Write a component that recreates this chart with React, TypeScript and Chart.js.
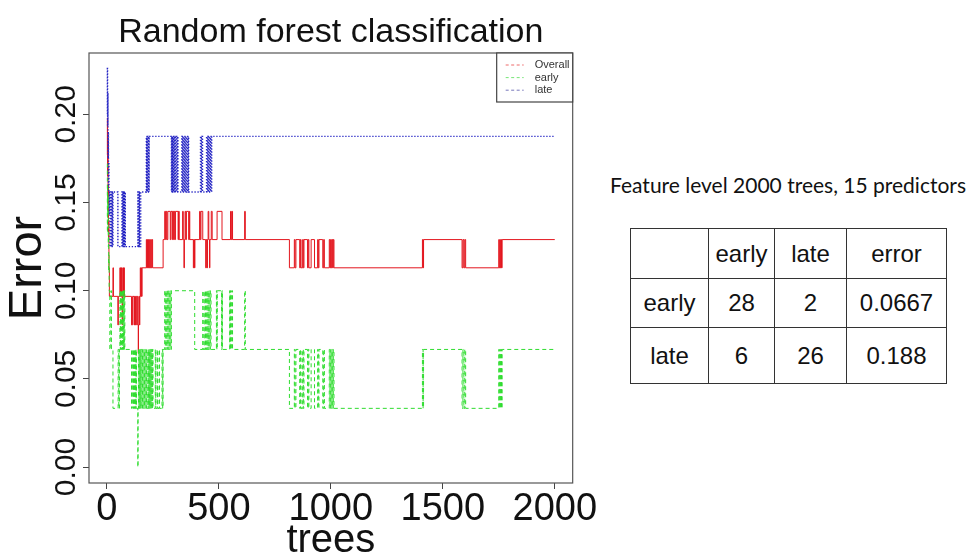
import React, { useEffect, useRef } from "react";
import { Chart, registerables } from "chart.js";

Chart.register(...registerables);

// ---------- data ----------
const chartTitle = "Random forest classification";
const xTitle = "trees";
const yTitle = "Error";
const xTickValues = [0, 500, 1000, 1500, 2000];
const yTickValues = [0, 0.05, 0.1, 0.15, 0.2];
const yTickLabels = ["0.00", "0.05", "0.10", "0.15", "0.20"];
const seriesNames = ["Overall", "early", "late"];

// [tree, error] change points; each value holds until the next point
const overallSteps: [number, number][] = [
  [1, 0.177], [2, 0.198], [3, 0.165], [4, 0.185], [5, 0.15], [6, 0.16], [7, 0.129], [8, 0.14], [9, 0.113], [11, 0.0968],
  [27, 0.113], [29, 0.0968], [49, 0.0806], [51, 0.0968], [58, 0.113], [60, 0.0968], [62, 0.113], [64, 0.0968], [66, 0.113],
  [68, 0.0806], [70, 0.0968], [72, 0.113], [74, 0.0968], [76, 0.113], [78, 0.0968], [110, 0.0806], [114, 0.0968],
  [121, 0.0806], [123, 0.0968], [126, 0.0806], [128, 0.0968], [133, 0.0806], [135, 0.0968], [138, 0.0806], [140, 0.0645],
  [141, 0.0806], [143, 0.0968], [145, 0.0806], [147, 0.0968], [149, 0.113], [151, 0.0968], [153, 0.113], [155, 0.0968],
  [157, 0.113], [176, 0.129], [178, 0.113], [181, 0.129], [183, 0.113], [186, 0.129], [188, 0.113], [191, 0.129],
  [193, 0.113], [196, 0.129], [198, 0.113], [201, 0.129], [204, 0.113], [251, 0.129], [258, 0.145], [262, 0.129],
  [265, 0.145], [268, 0.129], [272, 0.145], [283, 0.129], [286, 0.145], [292, 0.129], [294, 0.145], [298, 0.129],
  [300, 0.145], [303, 0.129], [306, 0.145], [318, 0.129], [320, 0.145], [323, 0.129], [338, 0.145], [341, 0.129],
  [344, 0.113], [346, 0.129], [349, 0.145], [352, 0.129], [355, 0.145], [365, 0.129], [368, 0.145], [370, 0.129],
  [386, 0.113], [388, 0.129], [391, 0.113], [393, 0.129], [414, 0.145], [417, 0.129], [420, 0.145], [428, 0.129],
  [441, 0.113], [444, 0.129], [447, 0.113], [449, 0.129], [452, 0.145], [455, 0.129], [458, 0.113], [460, 0.129],
  [466, 0.145], [470, 0.129], [492, 0.145], [514, 0.129], [552, 0.145], [555, 0.129], [558, 0.145], [561, 0.129],
  [615, 0.145], [618, 0.129], [815, 0.113], [837, 0.129], [840, 0.113], [844, 0.129], [861, 0.113], [864, 0.129],
  [867, 0.113], [874, 0.129], [877, 0.113], [880, 0.129], [896, 0.113], [899, 0.129], [902, 0.113], [912, 0.129],
  [927, 0.113], [941, 0.129], [944, 0.113], [947, 0.129], [964, 0.113], [968, 0.129], [971, 0.113], [993, 0.129],
  [996, 0.113], [999, 0.129], [1002, 0.113], [1005, 0.129], [1008, 0.113], [1011, 0.129], [1014, 0.113],
  [1409, 0.129], [1412, 0.113], [1414, 0.129], [1586, 0.113], [1590, 0.129], [1594, 0.113], [1598, 0.129],
  [1602, 0.113], [1750, 0.129], [1752, 0.113], [1755, 0.129], [1757, 0.113], [1760, 0.129], [1762, 0.113],
  [1765, 0.129], [2000, 0.129],
];

const earlySteps: [number, number][] = [
  [1, 0.172], [2, 0.133], [3, 0.16], [4, 0.143], [5, 0.154], [6, 0.125], [7, 0.133], [8, 0.111], [9, 0.12], [10, 0.1],
  [13, 0.0667], [18, 0.1], [20, 0.0667], [27, 0.0333], [50, 0.0667], [53, 0.0333], [56, 0.0667], [58, 0.1], [60, 0.0667],
  [62, 0.1], [64, 0.0667], [66, 0.1], [68, 0.0667], [70, 0.1], [72, 0.0667], [74, 0.1], [76, 0.0667], [78, 0.1],
  [80, 0.0667], [110, 0.0333], [112, 0.0667], [116, 0.0333], [118, 0.0667], [120, 0.0333], [122, 0.0667], [124, 0.0333],
  [126, 0.0667], [128, 0.0333], [130, 0.0667], [132, 0.0333], [138, 0], [139, 0.0333], [141, 0.0667], [143, 0.0333],
  [145, 0.0667], [147, 0.0333], [149, 0.0667], [151, 0.0333], [153, 0.0667], [156, 0.0333], [159, 0.0667], [162, 0.0333],
  [165, 0.0667], [168, 0.0333], [171, 0.0667], [174, 0.0333], [177, 0.0667], [180, 0.0333], [184, 0.0667], [186, 0.0333],
  [188, 0.0667], [190, 0.0333], [192, 0.0667], [194, 0.0333], [196, 0.0667], [198, 0.0333], [200, 0.0667], [202, 0.0333],
  [204, 0.0667], [206, 0.0333], [216, 0.0667], [218, 0.0333], [224, 0.0667], [226, 0.0333], [233, 0.0667], [235, 0.0333],
  [246, 0.0667], [249, 0.0333], [251, 0.0667], [258, 0.1], [261, 0.0667], [264, 0.1], [267, 0.0667], [270, 0.1],
  [273, 0.0667], [276, 0.1], [279, 0.0667], [282, 0.1], [285, 0.0667], [288, 0.1], [392, 0.0667], [428, 0.1],
  [430, 0.0667], [437, 0.1], [439, 0.0667], [441, 0.1], [443, 0.0667], [446, 0.1], [448, 0.0667], [451, 0.1],
  [453, 0.0667], [456, 0.1], [459, 0.0667], [462, 0.1], [465, 0.0667], [489, 0.1], [491, 0.0667], [493, 0.1],
  [512, 0.0667], [514, 0.1], [516, 0.0667], [548, 0.1], [550, 0.0667], [552, 0.1], [555, 0.0667], [558, 0.1],
  [561, 0.0667], [615, 0.1], [618, 0.0667], [815, 0.0333], [837, 0.0667], [840, 0.0333], [844, 0.0667], [861, 0.0333],
  [864, 0.0667], [867, 0.0333], [874, 0.0667], [877, 0.0333], [880, 0.0667], [896, 0.0333], [899, 0.0667], [902, 0.0333],
  [912, 0.0667], [927, 0.0333], [941, 0.0667], [944, 0.0333], [947, 0.0667], [964, 0.0333], [968, 0.0667], [971, 0.0333],
  [993, 0.0667], [996, 0.0333], [999, 0.0667], [1002, 0.0333], [1005, 0.0667], [1008, 0.0333], [1011, 0.0667],
  [1014, 0.0333], [1409, 0.0667], [1412, 0.0333], [1414, 0.0667], [1586, 0.0333], [1590, 0.0667], [1594, 0.0333],
  [1598, 0.0667], [1602, 0.0333], [1750, 0.0667], [1752, 0.0333], [1755, 0.0667], [1757, 0.0333], [1760, 0.0667],
  [1762, 0.0333], [1765, 0.0667], [2000, 0.0667],
];

const lateSteps: [number, number][] = [
  [1, 0.2], [2, 0.226], [3, 0.194], [4, 0.212], [5, 0.176], [6, 0.19], [7, 0.16], [8, 0.172], [9, 0.156], [11, 0.143],
  [12, 0.156], [14, 0.125], [18, 0.156], [20, 0.125], [22, 0.156], [24, 0.125], [27, 0.156], [49, 0.125], [67, 0.156],
  [69, 0.125], [71, 0.156], [73, 0.125], [75, 0.156], [77, 0.125], [79, 0.156], [82, 0.125], [138, 0.156], [140, 0.125],
  [142, 0.156], [144, 0.125], [146, 0.156], [148, 0.125], [151, 0.156], [176, 0.1875], [178, 0.156], [180, 0.1875],
  [182, 0.156], [185, 0.1875], [187, 0.156], [189, 0.1875], [288, 0.156], [290, 0.1875], [292, 0.156], [294, 0.1875],
  [296, 0.156], [298, 0.1875], [300, 0.156], [303, 0.1875], [306, 0.156], [309, 0.1875], [312, 0.156], [315, 0.1875],
  [317, 0.156], [334, 0.1875], [337, 0.156], [339, 0.1875], [342, 0.156], [345, 0.1875], [348, 0.156], [351, 0.1875],
  [354, 0.156], [357, 0.1875], [360, 0.156], [363, 0.1875], [365, 0.156], [418, 0.1875], [421, 0.156], [424, 0.1875],
  [427, 0.156], [445, 0.1875], [447, 0.156], [450, 0.1875], [453, 0.156], [456, 0.1875], [459, 0.156], [462, 0.1875],
  [465, 0.156], [468, 0.1875], [2000, 0.1875],
];

const tableCaption = "Feature level 2000 trees, 15 predictors";
const tableHeader = ["", "early", "late", "error"];
const tableRows = [
  ["early", "28", "2", "0.0667"],
  ["late", "6", "26", "0.188"],
];

// ---------- styling ----------
const FONT = "'Liberation Sans', Arial, Helvetica, sans-serif";
const lineColors = ["#e3161e", "#2fdc2f", "#2626c4"];
const legendColors = ["#ee6a6a", "#77e677", "#7777bb"];
const lineDashes = [[], [4, 3], [1.3, 1.7]];

const frameAndTextPlugin = {
  id: "frameAndText",
  afterDatasetsDraw(chart: any) {
    const { ctx, chartArea } = chart;
    ctx.save();
    ctx.strokeStyle = "#555";
    ctx.lineWidth = 1.2;
    ctx.setLineDash([]);
    ctx.strokeRect(chartArea.left, chartArea.top, chartArea.right - chartArea.left, chartArea.bottom - chartArea.top);
    ctx.restore();
  },
  afterDraw(chart: any) {
    const { ctx, chartArea } = chart;
    const yScale = chart.scales.y;

    // main title, centred over the plot region (R style)
    ctx.save();
    ctx.fillStyle = "#111";
    ctx.font = `34px ${FONT}`;
    ctx.textAlign = "center";
    ctx.textBaseline = "alphabetic";
    ctx.fillText(chartTitle, (chartArea.left + chartArea.right) / 2, 42);
    ctx.restore();

    // rotated y tick labels
    ctx.save();
    ctx.fillStyle = "#111";
    ctx.font = `30px ${FONT}`;
    ctx.textAlign = "center";
    ctx.textBaseline = "middle";
    yTickValues.forEach((v, i) => {
      const py = yScale.getPixelForValue(v);
      ctx.save();
      ctx.translate(chartArea.left - 22, py);
      ctx.rotate(-Math.PI / 2);
      ctx.fillText(yTickLabels[i], 0, 0);
      ctx.restore();
    });
    ctx.restore();

    // legend box inside the top-right corner
    const boxW = 76;
    const boxH = 49;
    const bx = chartArea.right - boxW;
    const by = chartArea.top;
    ctx.save();
    ctx.fillStyle = "#fff";
    ctx.fillRect(bx, by, boxW, boxH);
    ctx.strokeStyle = "#444";
    ctx.lineWidth = 1.2;
    ctx.strokeRect(bx, by, boxW, boxH);
    ctx.font = `11px ${FONT}`;
    ctx.textBaseline = "middle";
    ctx.textAlign = "left";
    seriesNames.forEach((name, i) => {
      const ly = by + 12 + i * 12.6;
      ctx.strokeStyle = legendColors[i];
      ctx.lineWidth = 1;
      ctx.setLineDash([3, 2.5]);
      ctx.beginPath();
      ctx.moveTo(bx + 9, ly);
      ctx.lineTo(bx + 27, ly);
      ctx.stroke();
      ctx.setLineDash([]);
      ctx.fillStyle = "#333";
      ctx.fillText(name, bx + 38, ly);
    });
    ctx.restore();
  },
};

function ChartCanvas() {
  const ref = useRef<HTMLCanvasElement | null>(null);
  useEffect(() => {
    if (!ref.current) return;
    const allSteps = [overallSteps, earlySteps, lateSteps];
    const chart = new Chart(ref.current, {
      type: "line",
      data: {
        datasets: allSteps.map((steps, i) => ({
          label: seriesNames[i],
          data: steps.map(([x, y]) => ({ x, y })),
          borderColor: lineColors[i],
          borderWidth: i === 2 ? 1.4 : 1,
          borderDash: lineDashes[i],
          stepped: true,
          pointRadius: 0,
          fill: false,
          order: 3 - i,
        })),
      },
      options: {
        animation: false,
        responsive: false,
        devicePixelRatio: 1,
        layout: { padding: { left: 0, right: 26, top: 53, bottom: 0 } },
        plugins: {
          legend: { display: false },
          tooltip: { enabled: false },
          title: { display: false },
        },
        scales: {
          x: {
            type: "linear",
            min: -80,
            max: 2080,
            afterBuildTicks: (s: any) => {
              s.ticks = xTickValues.map((v) => ({ value: v }));
            },
            afterFit: (s: any) => {
              s.height = 74;
            },
            grid: { drawOnChartArea: false, drawTicks: true, tickLength: 6, color: "#444", lineWidth: 1 },
            border: { display: false },
            ticks: {
              autoSkip: false,
              maxRotation: 0,
              minRotation: 0,
              padding: 2,
              color: "#111",
              font: { family: FONT, size: 38, lineHeight: 1 },
              callback: (v: any) => String(v),
            },
            title: {
              display: true,
              text: xTitle,
              color: "#111",
              font: { family: FONT, size: 40, lineHeight: 1 },
              padding: { top: 0, bottom: -4 },
            },
          },
          y: {
            type: "linear",
            min: -0.00903,
            max: 0.2348,
            afterBuildTicks: (s: any) => {
              s.ticks = yTickValues.map((v) => ({ value: v }));
            },
            afterFit: (s: any) => {
              s.width = 89;
            },
            grid: { drawOnChartArea: false, drawTicks: true, tickLength: 6, color: "#444", lineWidth: 1 },
            border: { display: false },
            ticks: { display: false },
            title: {
              display: true,
              text: yTitle,
              color: "#111",
              font: { family: FONT, size: 47, lineHeight: 1.2 },
              padding: { top: 0, bottom: 0 },
            },
          },
        },
      },
      plugins: [frameAndTextPlugin],
    } as any);
    return () => chart.destroy();
  }, []);
  return (
    <canvas
      ref={ref}
      width={600}
      height={557}
      style={{ position: "absolute", left: 0, top: 0, width: 600, height: 557 }}
    />
  );
}

const cellBorder = "1.5px solid #333";
const colWidths = [78, 66, 72, 100];
const rowHeights = [50, 49, 56];

export default function App() {
  return (
    <div
      style={{
        position: "fixed",
        left: 0,
        top: 0,
        width: 971,
        height: 557,
        background: "#fff",
        overflow: "hidden",
      }}
    >
      <ChartCanvas />
      <div
        style={{
          position: "absolute",
          left: 610,
          top: 175,
          fontFamily: "Lato, 'Open Sans', sans-serif",
          fontSize: 21,
          lineHeight: "20px",
          whiteSpace: "nowrap",
          color: "#111",
          zIndex: 2,
        }}
      >
        {tableCaption}
      </div>
      <table
        style={{
          position: "absolute",
          left: 630,
          top: 228,
          borderCollapse: "collapse",
          tableLayout: "fixed",
          width: colWidths.reduce((a, b) => a + b, 0),
          fontFamily: FONT,
          fontSize: 24,
          color: "#111",
          zIndex: 2,
        }}
      >
        <colgroup>
          {colWidths.map((w, i) => (
            <col key={i} style={{ width: w }} />
          ))}
        </colgroup>
        <tbody>
          {[tableHeader, ...tableRows].map((row, r) => (
            <tr key={r} style={{ height: rowHeights[r] }}>
              {row.map((cell, c) => (
                <td
                  key={c}
                  style={{
                    border: cellBorder,
                    textAlign: "center",
                    verticalAlign: "middle",
                    padding: 0,
                  }}
                >
                  {cell}
                </td>
              ))}
            </tr>
          ))}
        </tbody>
      </table>
    </div>
  );
}
